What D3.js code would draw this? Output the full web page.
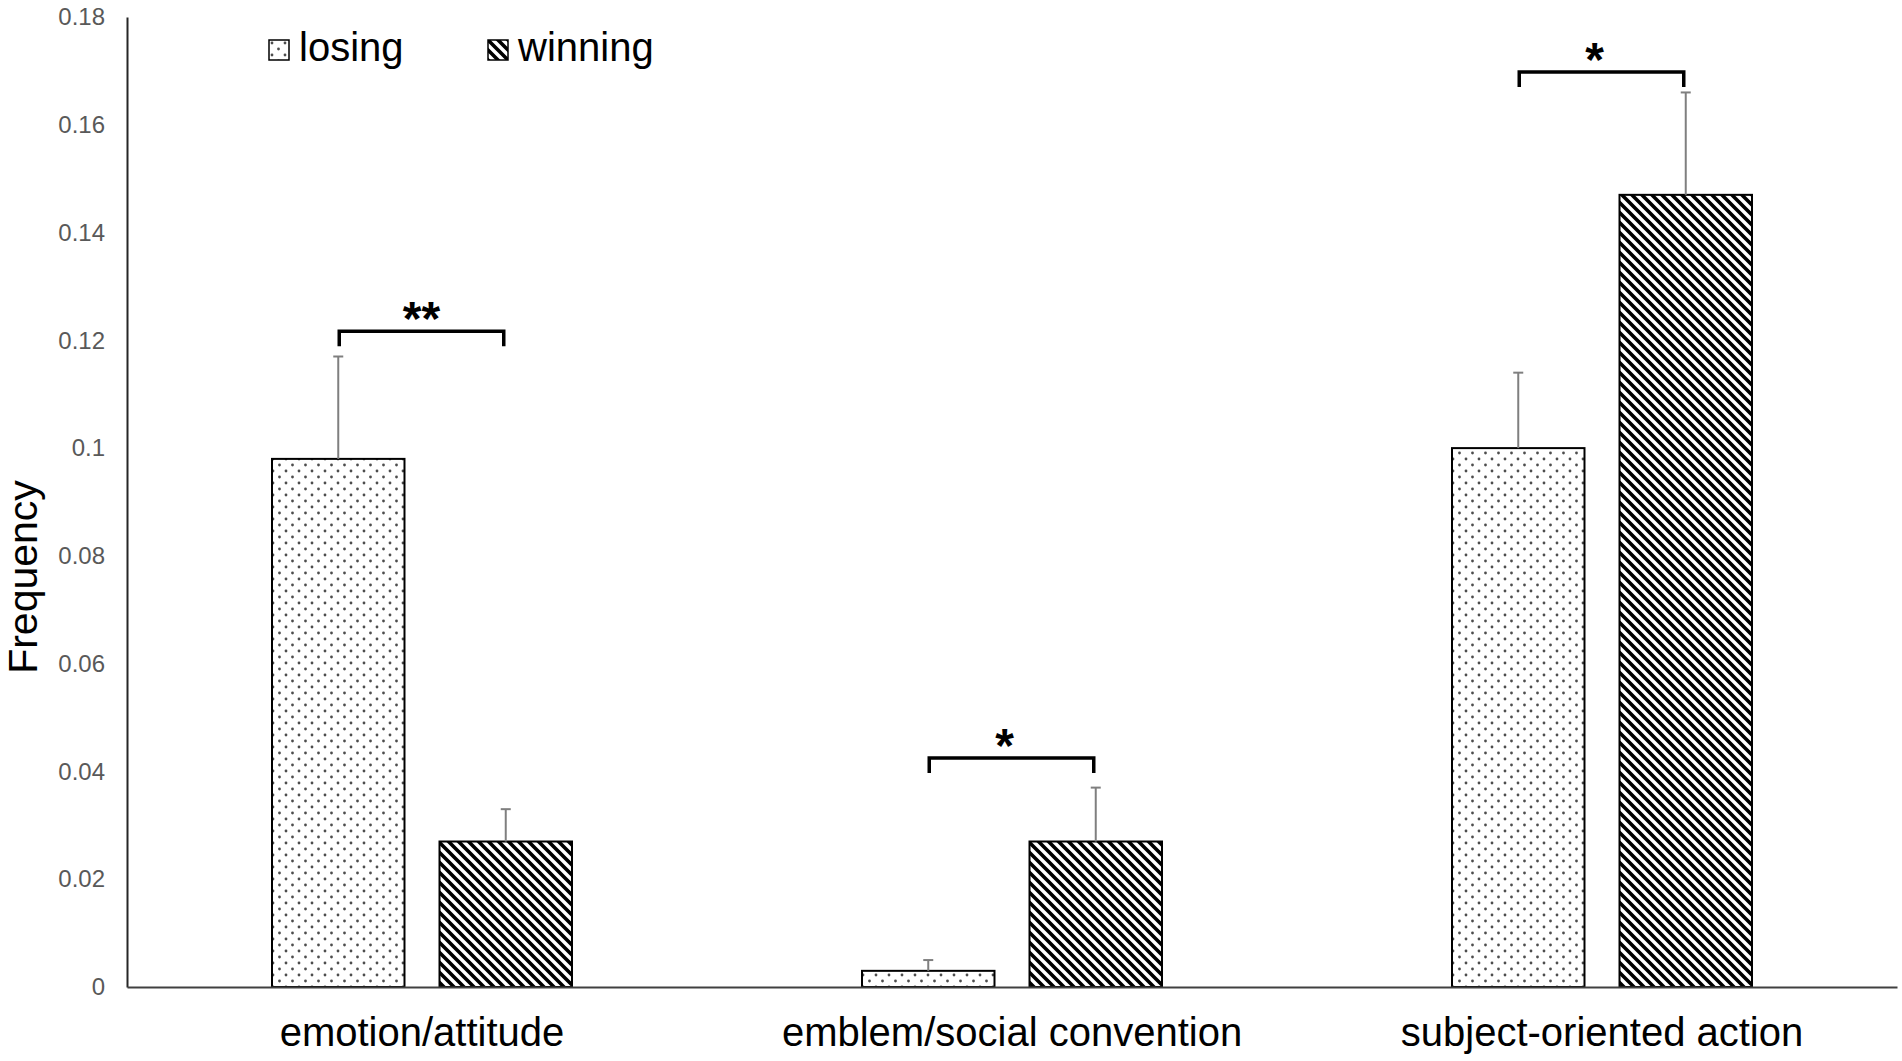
<!DOCTYPE html>
<html>
<head>
<meta charset="utf-8">
<script src="https://cdn.jsdelivr.net/npm/d3@7"></script>
<style>
  body { margin: 0; background: #fff; }
  text { font-family: "Liberation Sans", Arial, sans-serif; }
</style>
</head>
<body>
<div id="chart"></div>
<script>
// data
var categories = ["emotion/attitude", "emblem/social convention", "subject-oriented action"]
var groups = ["losing", "winning"]
var losing = [0.098, 0.003, 0.100]
var winning = [0.027, 0.027, 0.147]
var losingErr = [0.019, 0.002, 0.014]
var winningErr = [0.006, 0.010, 0.019]
var sigMarks = ["**", "*", "*"]
var sigLevel = [0.1217, 0.0425, 0.1698]
var yTickValues = [0, 0.02, 0.04, 0.06, 0.08, 0.1, 0.12, 0.14, 0.16, 0.18]

var width = 1902, height = 1061
var svg = d3.select("#chart").append("svg")
    .attr("width", width)
    .attr("height", height)

svg.append("rect").attr("width", width).attr("height", height).style("fill", "#fff")

// patterns
var defs = svg.append("defs")
var dots = defs.append("pattern")
    .attr("id", "dots")
    .attr("patternUnits", "userSpaceOnUse")
    .attr("width", 13).attr("height", 12)
dots.append("rect").attr("width", 13).attr("height", 12).style("fill", "#fff")
dots.append("circle").attr("cx", 3).attr("cy", 3).attr("r", 1.4).style("fill", "#4d4d4d")
dots.append("circle").attr("cx", 9.5).attr("cy", 9).attr("r", 1.4).style("fill", "#4d4d4d")

var hatch = defs.append("pattern")
    .attr("id", "hatch")
    .attr("patternUnits", "userSpaceOnUse")
    .attr("width", 10).attr("height", 10)
hatch.append("rect").attr("width", 10).attr("height", 10).style("fill", "#fff")
hatch.append("path")
    .attr("d", "M-5,5 L5,15 M0,0 L10,10 M5,-5 L15,5")
    .style("stroke", "#000").style("stroke-width", 3.6)

var fills = {losing: "url(#dots)", winning: "url(#hatch)"}

// scales
var x0 = d3.scaleBand().domain(categories).range([127, 1897]).padding(0)
var x1 = d3.scaleBand().domain(groups).range([145, 445]).paddingInner(0.209).paddingOuter(0)
var y = d3.scaleLinear().domain([0, 0.18]).range([987, 17])

// axes
var yAxis = svg.append("g")
    .attr("transform", "translate(127,0)")
    .call(d3.axisLeft(y).tickValues(yTickValues).tickFormat(d3.format("~g")).tickSize(0).tickPadding(22))
yAxis.select(".domain").style("stroke", "#262626").style("stroke-width", 2)
yAxis.selectAll("text").style("font-size", "24px").style("fill", "#595959")
    .style("font-family", "'Liberation Sans', Arial, sans-serif")

var rows = categories.map(function(c, i) {
    return [
        {cat: c, group: "losing", value: losing[i], err: losingErr[i]},
        {cat: c, group: "winning", value: winning[i], err: winningErr[i]}
    ]
})

// bars
var cat = svg.append("g").selectAll("g")
    .data(rows)
    .join("g")
    .attr("transform", function(d, i) { return "translate(" + x0(categories[i]) + ",0)" })

cat.selectAll("rect")
    .data(function(d) { return d })
    .join("rect")
    .attr("x", function(d) { return x1(d.group) })
    .attr("y", function(d) { return y(d.value) })
    .attr("width", x1.bandwidth())
    .attr("height", function(d) { return y(0) - y(d.value) })
    .style("fill", function(d) { return fills[d.group] })
    .style("stroke", "#000").style("stroke-width", 2)

// error bars (upper only)
var eb = cat.selectAll("g.err")
    .data(function(d) { return d })
    .join("g").attr("class", "err")
eb.append("line")
    .attr("x1", function(d) { return x1(d.group) + x1.bandwidth() / 2 })
    .attr("x2", function(d) { return x1(d.group) + x1.bandwidth() / 2 })
    .attr("y1", function(d) { return y(d.value) })
    .attr("y2", function(d) { return y(d.value + d.err) })
    .style("stroke", "#7f7f7f").style("stroke-width", 2)
eb.append("line")
    .attr("x1", function(d) { return x1(d.group) + x1.bandwidth() / 2 - 5 })
    .attr("x2", function(d) { return x1(d.group) + x1.bandwidth() / 2 + 5 })
    .attr("y1", function(d) { return y(d.value + d.err) })
    .attr("y2", function(d) { return y(d.value + d.err) })
    .style("stroke", "#7f7f7f").style("stroke-width", 2)

// x axis drawn after bars so the baseline sits on top
var xAxis = svg.append("g")
    .attr("transform", "translate(0,987)")
    .call(d3.axisBottom(x0).tickSize(0).tickSizeOuter(0).tickPadding(31))
xAxis.select(".domain").style("stroke", "#404040").style("stroke-width", 2)
xAxis.selectAll("text").style("font-size", "40px").style("fill", "#000")
    .style("font-family", "'Liberation Sans', Arial, sans-serif")

// significance brackets
var legLen = 15
cat.each(function(d, i) {
    var g = d3.select(this)
    var xa = x1("losing") + x1.bandwidth() / 2 + 1
    var xb = x1("winning") + x1.bandwidth() / 2 - 2
    var yb = y(sigLevel[i])
    g.append("path")
        .attr("d", "M" + xa + "," + (yb + legLen) + "V" + yb + "H" + xb + "V" + (yb + legLen))
        .style("fill", "none").style("stroke", "#000").style("stroke-width", 3.5)
    g.append("text")
        .attr("x", (xa + xb) / 2 + (sigMarks[i].length == 1 ? -7 : 0))
        .attr("y", yb + 4)
        .attr("text-anchor", "middle")
        .style("font-size", "48px")
        .style("font-weight", "bold")
        .text(sigMarks[i])
})

// legend
var legendX = [269, 488]
var leg = svg.append("g").selectAll("g")
    .data(groups)
    .join("g")
    .attr("transform", function(d, i) { return "translate(" + legendX[i] + ",40)" })
leg.append("rect")
    .attr("width", 20).attr("height", 20)
    .style("fill", function(d) { return fills[d] })
    .style("stroke", "#000").style("stroke-width", 1.5)
leg.append("text")
    .attr("x", 30).attr("y", 21)
    .style("font-size", "40px")
    .text(function(d) { return d })

// y label
svg.append("text")
    .attr("transform", "translate(37,577) rotate(-90)")
    .attr("text-anchor", "middle")
    .style("font-size", "41px")
    .text("Frequency")
</script>
</body>
</html>
